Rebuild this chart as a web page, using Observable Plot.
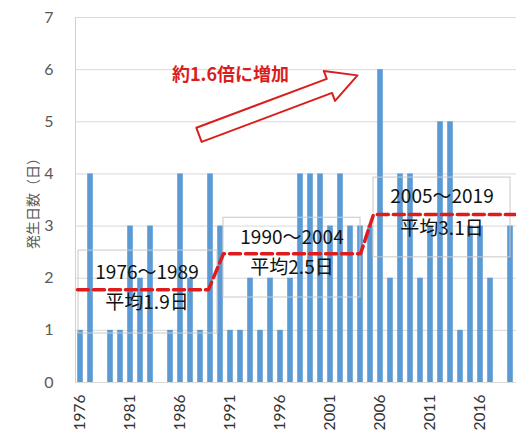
<!DOCTYPE html>
<html><head><meta charset="utf-8">
<script src="https://cdn.jsdelivr.net/npm/d3@7"></script>
<script src="https://cdn.jsdelivr.net/npm/@observablehq/plot@0.6"></script>
<style>
html,body{margin:0;padding:0;background:#fff;}
</style>
</head><body><div id="chart"></div>
<script>
// ---- data ----
const years = [1976,1977,1978,1979,1980,1981,1982,1983,1984,1985,1986,1987,1988,1989,
  1990,1991,1992,1993,1994,1995,1996,1997,1998,1999,2000,2001,2002,2003,2004,
  2005,2006,2007,2008,2009,2010,2011,2012,2013,2014,2015,2016,2017,2018,2019];
const days = [1,4,0,1,1,3,2,3,0,1,4,2,1,4,
  3,1,1,2,1,2,1,2,4,4,4,3,4,3,3,
  3,6,2,4,4,2,3,5,5,1,3,3,2,0,3];
const xTickYears = [1976,1981,1986,1991,1996,2001,2006,2011,2016];
const yTicks = [0,1,2,3,4,5,6,7];

const periodLabels = ["1976～1989","1990～2004","2005～2019"];
const periodMeans = ["平均1.9日","平均2.5日","平均3.1日"];
// step line of averages (as drawn in the picture)
const stepYears = [1975.7, 1988.8, 1990.3, 2004.0, 2005.3, 2019.6];
const stepLevels = [1.78, 1.78, 2.47, 2.47, 3.22, 3.22];
// annotation boxes (data coordinates)
const boxX1 = [1975.8, 1990.3, 2005.3];
const boxX2 = [1989.7, 2004.0, 2019.0];
const boxY1 = [0.94, 1.63, 2.40];
const boxY2 = [2.53, 3.16, 3.93];
const labelYear = [1982.65, 1997.15, 2012.15];
const labelLine1 = [2.11, 2.78, 3.55];
const labelLine2 = [1.52, 2.19, 2.95];
// increase annotation
const increaseText = "約1.6倍に増加";
const increaseAt = [1991.0, 5.89];
const arrowFrom = [1987.85, 4.75];
const arrowTo = [2003.7, 5.89];

// ---- layout ----
const W = 516, H = 441, mL = 75, mR = 0, mT = 17, mB = 59;
const xDomain = [1975.5, 2019.6], yDomain = [0, 7];
const red = "#d91e1e";

const table = years.map((year, i) => ({year, value: days[i]}));
const step = stepYears.map((x, i) => ({x, y: stepLevels[i]}));
const boxes = boxX1.map((x1, i) => ({x1, x2: boxX2[i], y1: boxY1[i], y2: boxY2[i]}));
const labels1 = periodLabels.map((t, i) => ({t, x: labelYear[i], y: labelLine1[i]}));
const labels2 = periodMeans.map((t, i) => ({t, x: labelYear[i], y: labelLine2[i]}));

// arrow polygon built in screen space, then mapped back to data space
const xs = d3.scaleLinear().domain(xDomain).range([mL, W - mR]);
const ys = d3.scaleLinear().domain(yDomain).range([H - mB, mT]);
function arrowPolygon(from, to, shaftHalf, headHalf, headLen) {
  const x0 = xs(from[0]), y0 = ys(from[1]), x1 = xs(to[0]), y1 = ys(to[1]);
  const dx = x1 - x0, dy = y1 - y0, L = Math.hypot(dx, dy);
  const ux = dx / L, uy = dy / L, nx = -uy, ny = ux;
  const bx = x1 - ux * headLen, by = y1 - uy * headLen;
  const pts = [
    [x0 + nx * shaftHalf, y0 + ny * shaftHalf],
    [bx + nx * shaftHalf, by + ny * shaftHalf],
    [bx + nx * headHalf, by + ny * headHalf],
    [x1, y1],
    [bx - nx * headHalf, by - ny * headHalf],
    [bx - nx * shaftHalf, by - ny * shaftHalf],
    [x0 - nx * shaftHalf, y0 - ny * shaftHalf]
  ];
  return pts.map(([px, py]) => ({x: xs.invert(px), y: ys.invert(py)}));
}
const arrow = arrowPolygon(arrowFrom, arrowTo, 7.5, 16, 30);

const chart = Plot.plot({
  width: W, height: H,
  marginLeft: mL, marginRight: mR, marginTop: mT, marginBottom: mB,
  style: {fontFamily: "Lato, 'Noto Sans CJK JP', sans-serif", fontSize: "15px", color: "#595959", background: "#fff"},
  x: {type: "linear", domain: xDomain},
  y: {domain: yDomain},
  marks: [
    Plot.ruleY(yTicks, {stroke: "#d9d9d9", strokeWidth: 1}),
    Plot.ruleX([xDomain[0]], {stroke: "#d0d0d0", strokeWidth: 1}),
    Plot.rectY(table, {x1: d => d.year - 0.28, x2: d => d.year + 0.28, y: "value", fill: "#5b9bd5"}),
    Plot.rect(boxes, {x1: "x1", x2: "x2", y1: "y1", y2: "y2", fill: "none", stroke: "#c8c8c8", strokeWidth: 1}),
    Plot.line(step, {x: "x", y: "y", stroke: "#e01b1b", strokeWidth: 3.5, strokeDasharray: "11,5"}),
    Plot.text(labels1, {x: "x", y: "y", text: "t", fontSize: 19, fill: "#111", fontFamily: "'Noto Sans CJK JP', sans-serif"}),
    Plot.text(labels2, {x: "x", y: "y", text: "t", fontSize: 19, fill: "#111", fontFamily: "'Noto Sans CJK JP', sans-serif"}),
    Plot.line(arrow, {x: "x", y: "y", curve: "linear-closed", stroke: red, strokeWidth: 2, fill: "#fff"}),
    Plot.text([increaseText], {x: () => increaseAt[0], y: () => increaseAt[1], text: d => d, fontSize: 18, fontWeight: "bold", fill: red, fontFamily: "'Noto Sans CJK JP', sans-serif"}),
    Plot.axisX({ticks: xTickYears, tickFormat: d => String(d), tickRotate: -90, tickSize: 0, tickPadding: 12, label: null, fill: "#333", fontSize: 15.5}),
    Plot.axisY({ticks: yTicks, tickFormat: d => String(d), tickSize: 0, tickPadding: 22, label: null, fontSize: 16}),
    Plot.axisY({ticks: [], label: "発生日数（日）", labelAnchor: "center", labelOffset: 47, labelArrow: "none", fontSize: 14, fontFamily: "'Noto Sans CJK JP', sans-serif"})
  ]
});
document.getElementById("chart").appendChild(chart);
</script>
</body></html>
